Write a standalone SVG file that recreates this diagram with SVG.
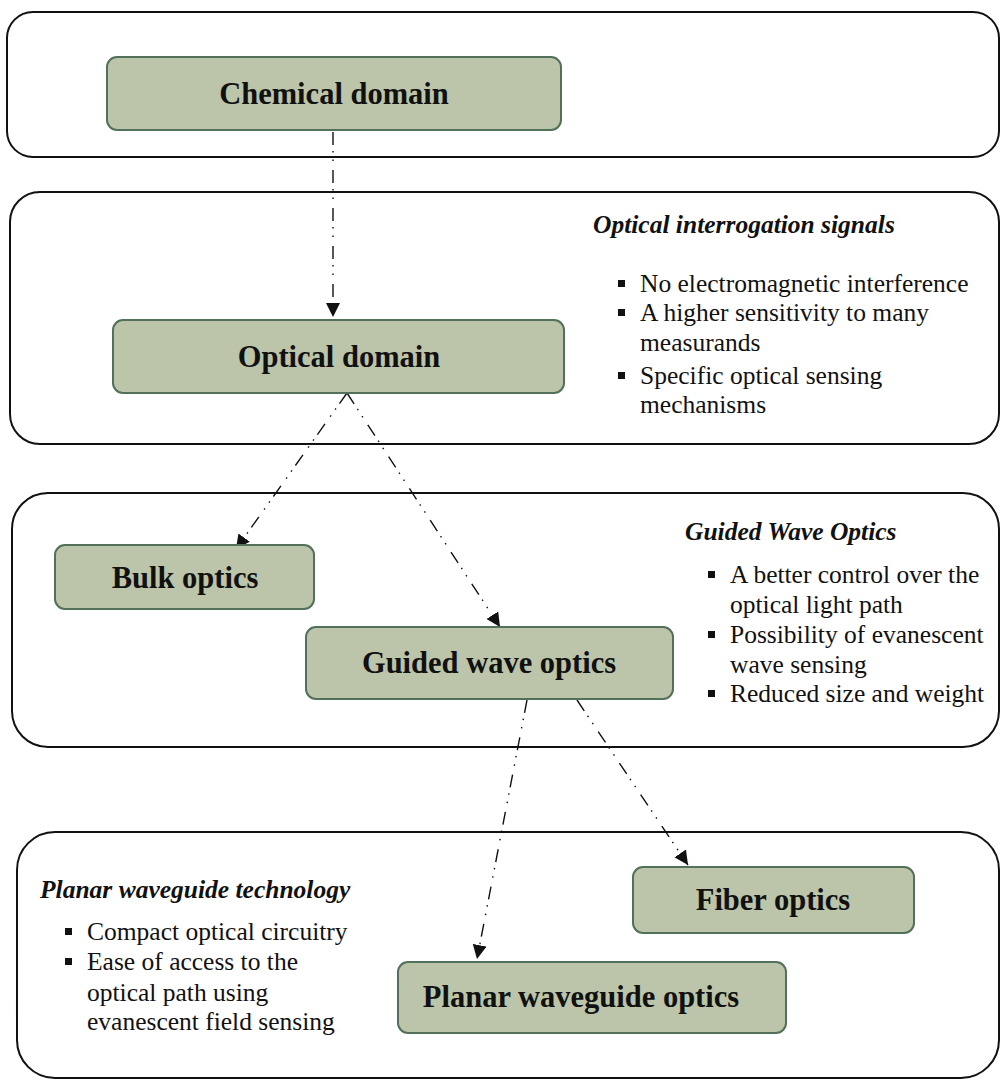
<svg xmlns="http://www.w3.org/2000/svg" width="1000" height="1080" viewBox="0 0 1000 1080">
<style>
.panel{fill:#ffffff;stroke:#111;stroke-width:2}
.node rect{fill:#bcc5a9;stroke:#52705a;stroke-width:2}
.lbl{font-family:"Liberation Serif","Times New Roman",serif;font-weight:bold;font-size:30.5px;fill:#111;text-anchor:middle}
.hd{font-family:"Liberation Serif","Times New Roman",serif;font-weight:bold;font-style:italic;font-size:25.5px;fill:#111}
.bt{font-family:"Liberation Serif","Times New Roman",serif;font-size:25.5px;fill:#111}
.sq{fill:#111}
.conn line{stroke:#111;stroke-width:1.4;stroke-dasharray:13 6 1.5 7 1.5 9;fill:none}
</style>
<defs>
<marker id="ah" markerUnits="userSpaceOnUse" markerWidth="16" markerHeight="16" refX="14" refY="7" orient="auto">
<path d="M0,0 L14,7 L0,14 Z" fill="#111"/>
</marker>
</defs>
<g id="panels">
<rect class="panel" x="7" y="12" width="992" height="145" rx="26"/>
<rect class="panel" x="10" y="192" width="989" height="252" rx="30"/>
<rect class="panel" x="12" y="493" width="987" height="254" rx="36"/>
<rect class="panel" x="17" y="832" width="982" height="246" rx="38"/>
</g>
<g id="connectors" class="conn">
<line x1="333" y1="132" x2="333" y2="317" marker-end="url(#ah)"/>
<line x1="347" y1="393" x2="236" y2="549" marker-end="url(#ah)"/>
<line x1="347" y1="393" x2="500" y2="627" marker-end="url(#ah)"/>
<line x1="527" y1="700" x2="477" y2="959" marker-end="url(#ah)"/>
<line x1="577" y1="700" x2="688" y2="865" marker-end="url(#ah)"/>
</g>
<g id="chemical" class="node"><rect x="107" y="57" width="454" height="73" rx="10"/><text class="lbl" x="334" y="104">Chemical domain</text></g>
<g id="optical" class="node"><rect x="113" y="320" width="451" height="73" rx="10"/><text class="lbl" x="339" y="367">Optical domain</text></g>
<g id="bulk" class="node"><rect x="55" y="545" width="259" height="64" rx="10"/><text class="lbl" x="185" y="588">Bulk optics</text></g>
<g id="guided" class="node"><rect x="306" y="627" width="367" height="72" rx="10"/><text class="lbl" x="489" y="673">Guided wave optics</text></g>
<g id="fiber" class="node"><rect x="633" y="867" width="281" height="66" rx="10"/><text class="lbl" x="773" y="910">Fiber optics</text></g>
<g id="planar" class="node"><rect x="398" y="962" width="388" height="71" rx="10"/><text class="lbl" x="581" y="1007">Planar waveguide optics</text></g>
<g id="note-optical">
<text class="hd" x="593" y="233">Optical interrogation signals</text>
<rect class="sq" x="618" y="280" width="7" height="7"/>
<text class="bt" x="640" y="292">No electromagnetic interference</text>
<rect class="sq" x="618" y="309" width="7" height="7"/>
<text class="bt" x="640" y="321">A higher sensitivity to many</text>
<text class="bt" x="640" y="351">measurands</text>
<rect class="sq" x="618" y="372" width="7" height="7"/>
<text class="bt" x="640" y="384">Specific optical sensing</text>
<text class="bt" x="640" y="413">mechanisms</text>
</g>
<g id="note-guided">
<text class="hd" x="685" y="540">Guided Wave Optics</text>
<rect class="sq" x="708" y="571" width="7" height="7"/>
<text class="bt" x="730" y="583">A better control over the</text>
<text class="bt" x="730" y="613">optical light path</text>
<rect class="sq" x="708" y="631" width="7" height="7"/>
<text class="bt" x="730" y="643">Possibility of evanescent</text>
<text class="bt" x="730" y="673">wave sensing</text>
<rect class="sq" x="708" y="690" width="7" height="7"/>
<text class="bt" x="730" y="702">Reduced size and weight</text>
</g>
<g id="note-planar">
<text class="hd" x="40" y="898">Planar waveguide technology</text>
<rect class="sq" x="65" y="928" width="7" height="7"/>
<text class="bt" x="87" y="940">Compact optical circuitry</text>
<rect class="sq" x="65" y="958" width="7" height="7"/>
<text class="bt" x="87" y="970">Ease of access to the</text>
<text class="bt" x="87" y="1001">optical path using</text>
<text class="bt" x="87" y="1030">evanescent field sensing</text>
</g>
</svg>
